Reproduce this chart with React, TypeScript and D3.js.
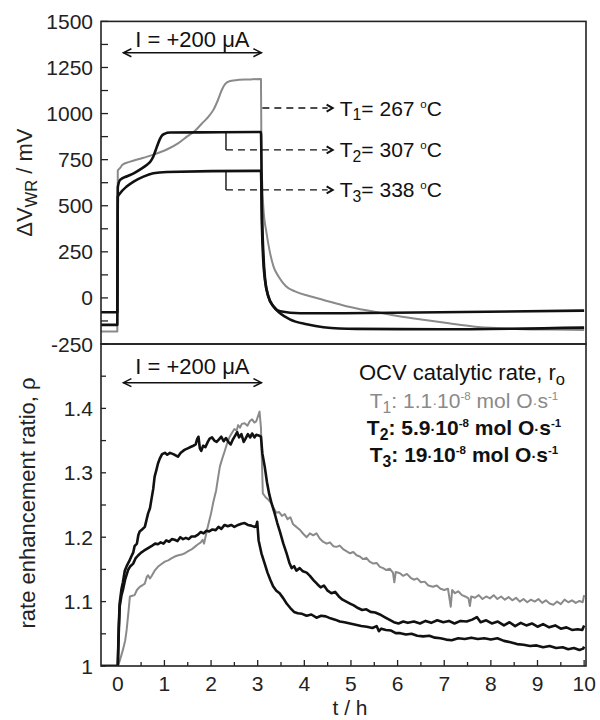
import React from 'react';
import * as d3 from 'd3';

// ---------- DATA ----------
const xTickLabels = [0, 1, 2, 3, 4, 5, 6, 7, 8, 9, 10];
const vTickLabels = [1500, 1250, 1000, 750, 500, 250, 0, -250];
const rhoTickLabels = [1, 1.1, 1.2, 1.3, 1.4];

// Top panel: ΔV_WR (mV) vs t (h)
const vT1: [number, number][] = [[-0.36,-182],[-0.01,-182],[0.0,690],[0.05,705],[0.1,722],[0.25,738],[0.55,760],[0.8,780],[1.05,805],[1.3,840],[1.48,875],[1.65,905],[1.8,945],[1.95,985],[2.05,1020],[2.15,1075],[2.23,1128],[2.3,1160],[2.41,1177],[2.6,1183],[2.8,1185],[3.07,1188],[3.08,800],[3.1,600],[3.12,495],[3.19,351],[3.26,250],[3.34,170],[3.45,115],[3.6,65],[3.8,35],[4.1,10],[4.41,-11],[4.9,-45],[5.48,-74],[6.0,-98],[6.55,-119],[7.1,-138],[7.62,-155],[8.2,-165],[8.69,-170],[9.3,-172],[10.0,-174]];
const vT2: [number, number][] = [[-0.36,-146],[-0.01,-146],[0.0,600],[0.05,640],[0.2,660],[0.34,676],[0.5,700],[0.62,721],[0.7,740],[0.76,766],[0.84,821],[0.9,860],[0.94,879],[1.0,890],[1.12,897],[1.76,898],[3.07,900],[3.09,500],[3.12,250],[3.16,98],[3.23,8],[3.34,-47],[3.48,-83],[3.69,-116],[4.05,-143],[4.41,-159],[5.12,-168],[6.91,-170],[10,-161]];
const vT3: [number, number][] = [[-0.36,-78],[-0.01,-78],[0,549],[0.05,568],[0.19,604],[0.34,631],[0.55,658],[0.76,676],[1.05,683],[3.07,689],[3.09,400],[3.12,200],[3.16,90],[3.23,5],[3.34,-47],[3.48,-72],[3.91,-83],[4.76,-83],[6.91,-78],[10,-69]];

// Bottom panel: rate enhancement ratio ρ vs t (h)
const rhoT1: [number, number][] = [[-0.36,1.0],[0.0,1.0],[0.05,1.01],[0.11,1.025],[0.16,1.04],[0.19,1.056],[0.23,1.085],[0.26,1.108],[0.31,1.109],[0.36,1.11],[0.41,1.118],[0.47,1.123],[0.52,1.125],[0.58,1.128],[0.62,1.138],[0.65,1.141],[0.69,1.136],[0.72,1.139],[0.79,1.148],[0.86,1.154],[0.93,1.158],[1.01,1.162],[1.08,1.164],[1.15,1.167],[1.22,1.17],[1.3,1.172],[1.37,1.173],[1.44,1.175],[1.5,1.178],[1.58,1.181],[1.65,1.185],[1.72,1.189],[1.78,1.192],[1.82,1.196],[1.85,1.19],[1.88,1.2],[1.92,1.213],[1.96,1.225],[2.0,1.237],[2.05,1.255],[2.11,1.273],[2.15,1.292],[2.19,1.31],[2.24,1.322],[2.29,1.333],[2.35,1.347],[2.4,1.356],[2.44,1.361],[2.5,1.368],[2.55,1.366],[2.58,1.374],[2.62,1.37],[2.66,1.376],[2.72,1.377],[2.78,1.373],[2.83,1.38],[2.88,1.383],[2.93,1.378],[2.97,1.38],[3.04,1.395],[3.07,1.37],[3.09,1.32],[3.11,1.268],[3.17,1.262],[3.23,1.258],[3.29,1.253],[3.35,1.244],[3.4,1.238],[3.46,1.239],[3.52,1.233],[3.58,1.236],[3.64,1.228],[3.7,1.231],[3.76,1.22],[3.83,1.216],[3.91,1.211],[3.98,1.205],[4.05,1.2],[4.12,1.206],[4.19,1.203],[4.26,1.206],[4.33,1.198],[4.4,1.193],[4.48,1.19],[4.55,1.192],[4.62,1.186],[4.69,1.185],[4.76,1.187],[4.84,1.181],[4.91,1.178],[4.98,1.175],[5.05,1.177],[5.12,1.172],[5.19,1.17],[5.26,1.166],[5.33,1.168],[5.4,1.162],[5.48,1.159],[5.55,1.16],[5.62,1.154],[5.69,1.152],[5.76,1.149],[5.83,1.151],[5.9,1.145],[5.93,1.13],[5.96,1.146],[6.05,1.144],[6.12,1.14],[6.2,1.143],[6.28,1.137],[6.35,1.134],[6.42,1.136],[6.5,1.13],[6.58,1.131],[6.66,1.125],[6.76,1.123],[6.84,1.125],[6.92,1.12],[7.0,1.118],[7.08,1.12],[7.14,1.092],[7.17,1.118],[7.23,1.113],[7.3,1.116],[7.38,1.11],[7.45,1.108],[7.52,1.105],[7.55,1.093],[7.58,1.108],[7.66,1.106],[7.74,1.11],[7.82,1.104],[7.9,1.108],[7.98,1.105],[8.06,1.11],[8.14,1.104],[8.22,1.108],[8.3,1.103],[8.38,1.107],[8.46,1.102],[8.54,1.106],[8.62,1.1],[8.7,1.104],[8.78,1.099],[8.86,1.103],[8.94,1.1],[9.02,1.104],[9.1,1.098],[9.18,1.102],[9.26,1.097],[9.34,1.095],[9.42,1.1],[9.5,1.096],[9.58,1.103],[9.66,1.099],[9.74,1.102],[9.82,1.098],[9.9,1.101],[9.97,1.099],[10.0,1.11]];
const rhoT2: [number, number][] = [[-0.36,1.0],[-0.02,1.0],[0.0,1.0],[0.02,1.06],[0.04,1.097],[0.08,1.12],[0.11,1.13],[0.15,1.148],[0.19,1.155],[0.24,1.162],[0.29,1.17],[0.33,1.176],[0.36,1.186],[0.41,1.19],[0.44,1.203],[0.47,1.209],[0.52,1.212],[0.58,1.216],[0.62,1.228],[0.65,1.237],[0.69,1.245],[0.72,1.258],[0.76,1.275],[0.79,1.294],[0.83,1.305],[0.86,1.314],[0.9,1.322],[0.95,1.329],[1.01,1.331],[1.06,1.328],[1.12,1.331],[1.19,1.329],[1.24,1.327],[1.29,1.325],[1.35,1.331],[1.4,1.334],[1.44,1.336],[1.5,1.338],[1.56,1.34],[1.62,1.342],[1.67,1.344],[1.7,1.352],[1.73,1.356],[1.76,1.338],[1.79,1.334],[1.83,1.342],[1.88,1.34],[1.93,1.348],[1.97,1.353],[2.02,1.355],[2.07,1.35],[2.12,1.348],[2.17,1.352],[2.22,1.356],[2.27,1.349],[2.32,1.354],[2.37,1.348],[2.42,1.344],[2.47,1.352],[2.52,1.358],[2.56,1.363],[2.6,1.355],[2.65,1.36],[2.7,1.348],[2.74,1.353],[2.79,1.36],[2.84,1.355],[2.88,1.361],[2.93,1.355],[2.97,1.359],[3.02,1.358],[3.07,1.356],[3.1,1.33],[3.15,1.31],[3.2,1.285],[3.25,1.266],[3.3,1.252],[3.36,1.238],[3.42,1.222],[3.48,1.208],[3.55,1.19],[3.62,1.175],[3.68,1.16],[3.73,1.152],[3.78,1.155],[3.83,1.148],[3.9,1.152],[3.97,1.147],[4.05,1.145],[4.12,1.14],[4.2,1.133],[4.28,1.127],[4.35,1.122],[4.42,1.125],[4.5,1.117],[4.58,1.113],[4.66,1.115],[4.74,1.108],[4.82,1.103],[4.9,1.1],[4.98,1.097],[5.06,1.094],[5.15,1.09],[5.24,1.087],[5.33,1.088],[5.42,1.084],[5.52,1.083],[5.62,1.08],[5.72,1.076],[5.82,1.072],[5.92,1.068],[6.02,1.066],[6.12,1.069],[6.22,1.067],[6.35,1.069],[6.48,1.066],[6.6,1.07],[6.72,1.067],[6.85,1.071],[6.98,1.068],[7.1,1.07],[7.22,1.066],[7.35,1.07],[7.48,1.069],[7.6,1.072],[7.7,1.076],[7.78,1.068],[7.9,1.071],[8.02,1.066],[8.15,1.069],[8.28,1.063],[8.4,1.068],[8.52,1.062],[8.64,1.067],[8.76,1.063],[8.88,1.066],[9.0,1.061],[9.12,1.065],[9.25,1.06],[9.38,1.063],[9.5,1.058],[9.62,1.06],[9.74,1.056],[9.86,1.057],[9.96,1.056],[10.0,1.063]];
const rhoT3: [number, number][] = [[-0.36,1.0],[0.0,1.0],[0.02,1.05],[0.04,1.092],[0.08,1.11],[0.11,1.118],[0.16,1.135],[0.22,1.149],[0.27,1.155],[0.33,1.159],[0.38,1.167],[0.44,1.172],[0.5,1.176],[0.56,1.179],[0.65,1.183],[0.72,1.186],[0.8,1.19],[0.86,1.189],[0.92,1.192],[0.98,1.19],[1.04,1.195],[1.1,1.193],[1.16,1.197],[1.22,1.196],[1.28,1.194],[1.34,1.2],[1.4,1.197],[1.46,1.199],[1.52,1.197],[1.58,1.201],[1.65,1.201],[1.72,1.204],[1.78,1.208],[1.84,1.206],[1.9,1.21],[1.96,1.209],[2.03,1.212],[2.1,1.211],[2.16,1.216],[2.22,1.213],[2.29,1.219],[2.36,1.217],[2.43,1.219],[2.5,1.216],[2.58,1.219],[2.65,1.221],[2.72,1.222],[2.79,1.219],[2.86,1.218],[2.93,1.216],[2.97,1.218],[2.99,1.224],[3.02,1.195],[3.08,1.175],[3.15,1.159],[3.21,1.145],[3.27,1.134],[3.33,1.124],[3.4,1.117],[3.47,1.113],[3.55,1.105],[3.62,1.097],[3.7,1.09],[3.78,1.084],[3.86,1.082],[3.95,1.081],[4.05,1.078],[4.15,1.08],[4.26,1.075],[4.36,1.078],[4.46,1.077],[4.56,1.074],[4.66,1.072],[4.76,1.069],[4.86,1.068],[4.98,1.066],[5.1,1.064],[5.22,1.062],[5.34,1.061],[5.46,1.059],[5.55,1.062],[5.6,1.054],[5.65,1.058],[5.75,1.056],[5.86,1.055],[5.96,1.051],[6.06,1.051],[6.18,1.049],[6.3,1.05],[6.42,1.047],[6.55,1.046],[6.68,1.047],[6.8,1.044],[6.92,1.043],[7.04,1.041],[7.16,1.04],[7.3,1.043],[7.44,1.042],[7.58,1.044],[7.72,1.042],[7.86,1.043],[8.0,1.041],[8.14,1.043],[8.28,1.039],[8.42,1.037],[8.56,1.034],[8.7,1.033],[8.84,1.031],[8.98,1.032],[9.12,1.029],[9.26,1.031],[9.4,1.028],[9.54,1.029],[9.66,1.026],[9.78,1.028],[9.9,1.025],[9.98,1.027],[10.0,1.03]];

// Annotation values
const currentStart = 0.12;
const currentEnd = 3.08;
const tempLabels = ['267', '307', '338'];
const tempLevels = [1030, 803, 586];
const rateValues = ['1.1', '5.9', '19'];

// ---------- LAYOUT ----------
const FONT = "'Liberation Sans', Arial, Helvetica, sans-serif";
const L = 101, R = 586, T1 = 21.4, MID = 344, B = 666;
const GRAY = '#8a8a8a';

const x = d3.scaleLinear().domain([-0.36, 10.04]).range([L, R]);
const yTop = d3.scaleLinear().domain([-250, 1500]).range([MID, T1]);
const yBot = d3.scaleLinear().domain([1, 1.5]).range([B, MID]);

const lineTop = d3.line<[number, number]>().x(d => x(d[0])).y(d => yTop(d[1])).curve(d3.curveMonotoneX);
const lineBot = d3.line<[number, number]>().x(d => x(d[0])).y(d => yBot(d[1])).curve(d3.curveLinear);

function Sub({ children }: { children: React.ReactNode }) {
  return <tspan fontSize="0.75em" dy="0.3em">{children}</tspan>;
}
function Sup({ children }: { children: React.ReactNode }) {
  return <tspan fontSize="0.55em" dy="-0.7em">{children}</tspan>;
}
function Reset({ dy, children }: { dy: string; children: React.ReactNode }) {
  return <tspan dy={dy}>{children}</tspan>;
}
function Dot() {
  return <tspan fontSize="0.7em">·</tspan>;
}

function DoubleArrow({ y }: { y: number }) {
  const x0 = x(currentStart), x1 = x(currentEnd);
  return (
    <g stroke="#111" strokeWidth={1.5} fill="none">
      <line x1={x0} y1={y} x2={x1} y2={y} />
      <path d={`M${x0 + 8},${y - 4} L${x0},${y} L${x0 + 8},${y + 4}`} />
      <path d={`M${x1 - 8},${y - 4} L${x1},${y} L${x1 - 8},${y + 4}`} />
    </g>
  );
}

export default function App() {
  const vTicks = d3.range(-250, 1500 + 1, 125);
  const rTicks = d3.range(1, 1.5001, 0.05);
  const xTicks = d3.range(0, 10.001, 0.5);
  const arrowX = x(4.5);
  const bracketX = x(2.32);
  return (
    <svg width={600} height={720} style={{ position: 'absolute', left: 0, top: 0, background: '#fff' }} fontFamily={FONT}>
      <defs>
        <clipPath id="clipTop"><rect x={L} y={T1} width={R - L} height={MID - T1} /></clipPath>
        <clipPath id="clipBot"><rect x={L} y={MID} width={R - L} height={B - MID} /></clipPath>
      </defs>
      <rect width={600} height={720} fill="#fff" />

      {/* ticks */}
      <g stroke="#222" strokeWidth={1.3}>
        {vTicks.map(v => <line key={'v' + v} x1={L} x2={L + 7} y1={yTop(v)} y2={yTop(v)} />)}
        {rTicks.map(v => <line key={'r' + v} x1={L} x2={L + 5} y1={yBot(v)} y2={yBot(v)} />)}
        {xTicks.map(t => <line key={'x' + t} x1={x(t)} x2={x(t)} y1={B} y2={B - (Number.isInteger(t) ? 6 : 4)} />)}
      </g>

      {/* tick labels */}
      <g fontSize={21} fill="#222" textAnchor="end">
        {vTickLabels.map(v => <text key={'vl' + v} x={93} y={yTop(v) + 7.5}>{v}</text>)}
        {rhoTickLabels.map(v => <text key={'rl' + v} x={93} y={yBot(v) + 7.5}>{v}</text>)}
      </g>
      <g fontSize={21} fill="#222" textAnchor="middle">
        {xTickLabels.map(t => <text key={'xl' + t} x={x(t)} y={691}>{t}</text>)}
      </g>

      {/* axis titles */}
      <text fontSize={22} fill="#222" textAnchor="middle" transform={`translate(32,${(T1 + MID) / 2}) rotate(-90)`}>
        ΔV<Sub>WR</Sub><Reset dy="-0.22em"> / mV</Reset>
      </text>
      <text fontSize={22} fill="#222" textAnchor="middle" transform={`translate(35,${(MID + B) / 2 - 2}) rotate(-90)`}>
        rate enhancement ratio, ρ
      </text>
      <text fontSize={21} fill="#222" textAnchor="middle" x={350} y={715}>t / h</text>

      {/* top curves */}
      <g clipPath="url(#clipTop)" fill="none" strokeLinejoin="round">
        <path d={lineTop(vT1) || ''} stroke={GRAY} strokeWidth={2} />
        <path d={lineTop(vT2) || ''} stroke="#111" strokeWidth={2.6} />
        <path d={lineTop(vT3) || ''} stroke="#111" strokeWidth={2.6} />
      </g>

      {/* bottom curves */}
      <g clipPath="url(#clipBot)" fill="none" strokeLinejoin="round">
        <path d={lineBot(rhoT1) || ''} stroke={GRAY} strokeWidth={2} />
        <path d={lineBot(rhoT2) || ''} stroke="#111" strokeWidth={2.6} />
        <path d={lineBot(rhoT3) || ''} stroke="#111" strokeWidth={2.6} />
      </g>

      {/* frames */}
      <g fill="none" stroke="#222" strokeWidth={1.6}>
        <rect x={L} y={T1} width={R - L} height={MID - T1} />
        <rect x={L} y={MID} width={R - L} height={B - MID} />
      </g>

      {/* current annotation */}
      <text x={(x(currentStart) + x(currentEnd)) / 2} y={47} fontSize={22} textAnchor="middle" fill="#111">I = +200 μA</text>
      <DoubleArrow y={yTop(1330)} />
      <text x={(x(currentStart) + x(currentEnd)) / 2} y={374} fontSize={22} textAnchor="middle" fill="#111">I = +200 μA</text>
      <DoubleArrow y={yBot(1.44)} />

      {/* temperature annotations */}
      <g stroke="#111" strokeWidth={1.4} fill="none">
        <line x1={x(3.1)} x2={arrowX} y1={yTop(tempLevels[0])} y2={yTop(tempLevels[0])} strokeDasharray="7,5" />
        <line x1={bracketX} x2={bracketX} y1={yTop(900)} y2={yTop(tempLevels[1])} />
        <line x1={bracketX} x2={arrowX} y1={yTop(tempLevels[1])} y2={yTop(tempLevels[1])} strokeDasharray="7,5" />
        <line x1={bracketX} x2={bracketX} y1={yTop(689)} y2={yTop(tempLevels[2])} />
        <line x1={bracketX} x2={arrowX} y1={yTop(tempLevels[2])} y2={yTop(tempLevels[2])} strokeDasharray="7,5" />
        {tempLevels.map((v, i) => (
          <path key={'ah' + i} d={`M${arrowX - 1},${yTop(v) - 3.5} L${arrowX + 5},${yTop(v)} L${arrowX - 1},${yTop(v) + 3.5}`} strokeWidth={2} />
        ))}
      </g>
      <g fontSize={21} fill="#111">
        {tempLabels.map((lab, i) => (
          <text key={'tl' + i} x={x(4.76)} y={yTop(tempLevels[i]) + 7.5}>
            T<Sub>{i + 1}</Sub><Reset dy="-0.22em">= {lab} </Reset><Sup>o</Sup><Reset dy="0.385em">C</Reset>
          </text>
        ))}
      </g>

      {/* legend of OCV rates */}
      <g textAnchor="middle">
        <text x={462} y={380} fill="#111" fontSize={22}>OCV catalytic rate, r<Sub>o</Sub></text>
        {rateValues.map((rv, i) => (
          <text key={'rv' + i} x={464} y={408 + i * 27} fill={i === 0 ? GRAY : '#111'} fontWeight={i === 0 ? 'normal' : 'bold'} fontSize={21}>
            T<Sub>{i + 1}</Sub><Reset dy="-0.225em">: {rv}</Reset><Dot />10<Sup>-8</Sup><Reset dy="0.385em"> mol O</Reset><Dot />s<Sup>-1</Sup>
          </text>
        ))}
      </g>
    </svg>
  );
}
